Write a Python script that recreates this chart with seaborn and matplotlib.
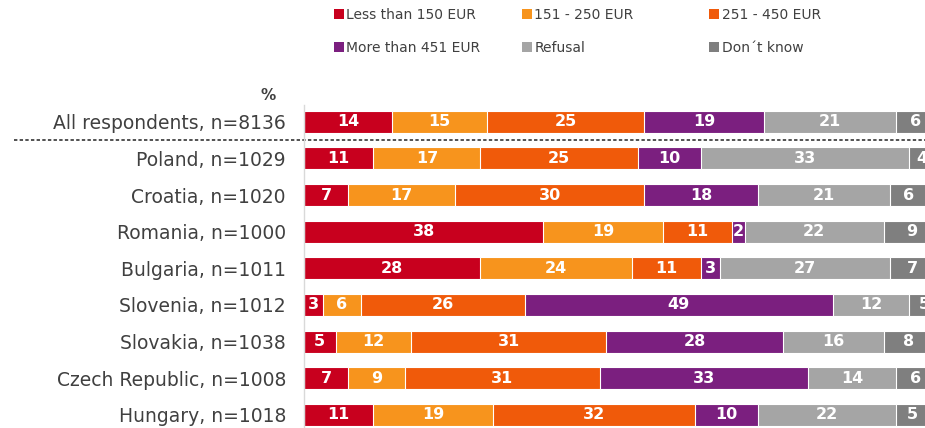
import numpy as np
import pandas as pd
import matplotlib
matplotlib.use("Agg")
import matplotlib.pyplot as plt
from matplotlib.patches import Patch
import seaborn as sns

# Data
countries = ["All respondents, n=8136", "Poland, n=1029", "Croatia, n=1020",
             "Romania, n=1000", "Bulgaria, n=1011", "Slovenia, n=1012",
             "Slovakia, n=1038", "Czech Republic, n=1008", "Hungary, n=1018"]
categories = ["Less than 150 EUR", "151 - 250 EUR", "251 - 450 EUR",
              "More than 451 EUR", "Refusal", "Don\u00b4t know"]
less_150 = [14, 11, 7, 38, 28, 3, 5, 7, 11]
eur_151_250 = [15, 17, 17, 19, 24, 6, 12, 9, 19]
eur_251_450 = [25, 25, 30, 11, 11, 26, 31, 31, 32]
more_451 = [19, 10, 18, 2, 3, 49, 28, 33, 10]
refusal = [21, 33, 21, 22, 27, 12, 16, 14, 22]
dont_know = [6, 4, 6, 9, 7, 5, 8, 6, 5]
colors = ["#C8001E", "#F7941D", "#F05A0A", "#7B1F7F", "#A5A5A5", "#7F7F7F"]

df = pd.DataFrame(dict(zip(categories, [less_150, eur_151_250, eur_251_450,
                                         more_451, refusal, dont_know])),
                  index=countries)
cum = df.cumsum(axis=1)

sns.set_theme(style="white")
plt.rcParams["font.family"] = ["DejaVu Sans"]
text_col = "#404040"

fig = plt.figure(figsize=(9.25, 4.28), dpi=100)
ax = fig.add_axes([304 / 925, 0.0, 630 / 925, 1 - 105 / 428])

# stacked bars: draw cumulative totals from the last category backwards
for cat, col in reversed(list(zip(categories, colors))):
    sns.barplot(x=cum[cat].values, y=countries, orient="h", color=col,
                saturation=1, width=0.6, edgecolor="white", linewidth=0.8,
                ax=ax)

# value labels
for i, c in enumerate(countries):
    for cat in categories:
        v = df.loc[c, cat]
        xc = cum.loc[c, cat] - v / 2
        ax.text(xc, i, str(v), ha="center", va="center", color="white",
                fontsize=11.5, fontweight="bold")

ax.set_xlim(0, 100)
ax.set_ylim(8.36, -0.46)
ax.set_xticks([])
ax.set_xlabel("")
ax.tick_params(axis="y", length=0, pad=13, labelsize=13.5, labelcolor=text_col)
for s in ["top", "right", "bottom"]:
    ax.spines[s].set_visible(False)
ax.spines["left"].set_color("#D9D9D9")
ax.spines["left"].set_linewidth(1)

# dashed separator below "All respondents"
ax.axhline(0.5, xmin=-0.46, xmax=1, color="#222222", linestyle=(0, (2.2, 1.5)),
           linewidth=1.1, clip_on=False)

fig.text(268 / 925, 1 - 95 / 428, "%", ha="center", va="center",
         fontsize=11, fontweight="bold", color=text_col)

# legend in three columns placed individually
col_x = [334, 522, 709]
for k in range(3):
    idx = [k, k + 3]
    handles = [Patch(facecolor=colors[j], edgecolor="none") for j in idx]
    leg = fig.legend(handles, [categories[j] for j in idx], loc="upper left",
                     bbox_to_anchor=(col_x[k] / 925, 1 - 8 / 428),
                     frameon=False, fontsize=10, handlelength=0.7,
                     handleheight=0.7, handletextpad=0.2, borderpad=0,
                     borderaxespad=0, labelspacing=1.35)
    for t in leg.get_texts():
        t.set_color(text_col)

fig.savefig("out.png", dpi=100)
